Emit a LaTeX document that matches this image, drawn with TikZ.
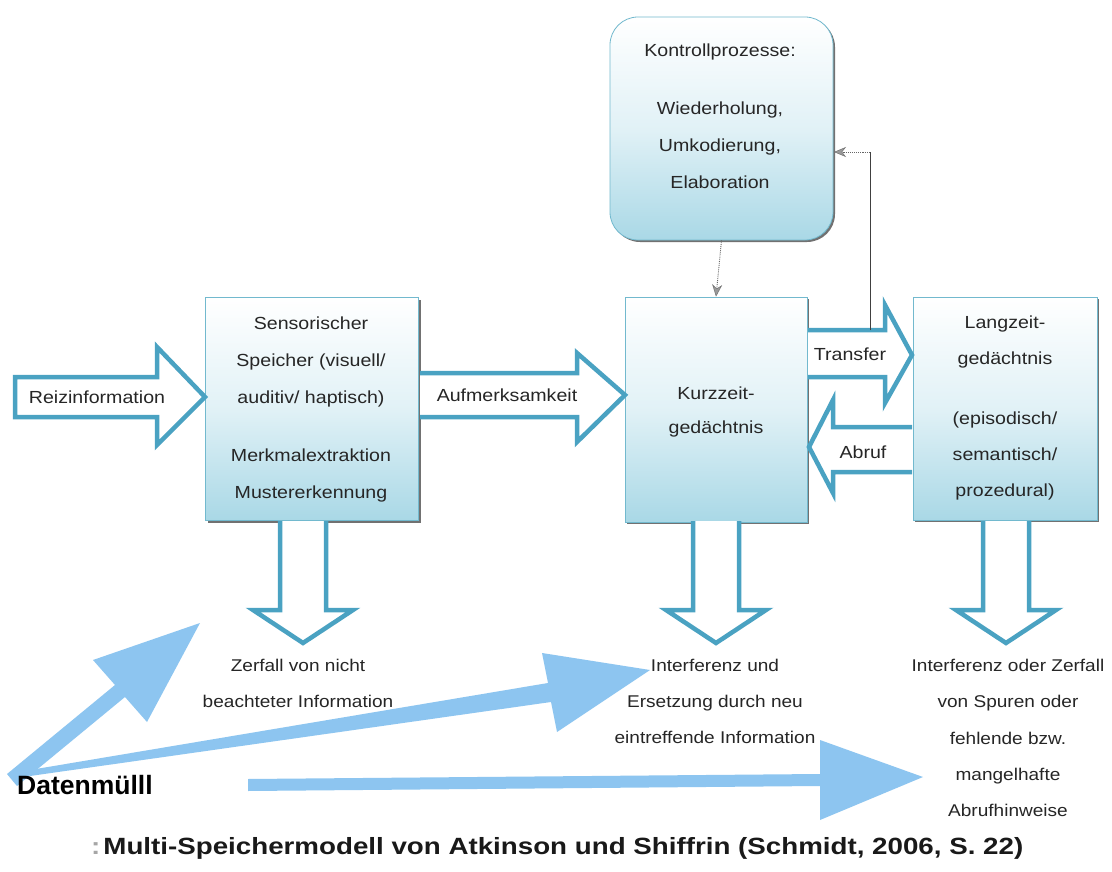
\documentclass[tikz,border=0pt]{standalone}
\usepackage{fontspec}
\setmainfont{Liberation Sans}[FakeStretch=1.12]
\newfontfamily\capfont{Liberation Sans}[FakeStretch=1.18]
\newfontfamily\datfont{Liberation Sans}
\usetikzlibrary{shadows,arrows.meta,calc}
\definecolor{arrteal}{HTML}{4AA2C2}
\definecolor{boxbot}{HTML}{A9D8E6}
\definecolor{boxedge}{HTML}{72B9CE}
\definecolor{lblue}{HTML}{8DC5F0}
\definecolor{txtcol}{HTML}{262626}
\tikzset{
 box/.style={draw=boxedge, line width=0.8pt, top color=white, bottom color=boxbot, middle color=boxbot!35,
   drop shadow={shadow xshift=2pt, shadow yshift=-2pt, opacity=0.85, fill=black!65}, inner sep=0pt},
 txt/.style={font=\fontsize{17.5}{37}\selectfont, align=center, inner sep=0pt, text=txtcol, anchor=north},
 lbl/.style={font=\fontsize{17.5}{37}\selectfont, inner sep=0pt, text=txtcol},
 barrow/.style={draw=arrteal, line width=4.5pt, fill=white, line join=miter, miter limit=10},
 barrowfill/.style={fill=white, draw=none},
 lbarrow/.style={fill=lblue, draw=none},
 dotarrow/.style={draw=black!60, densely dotted, line width=0.9pt, -{Stealth[length=12pt,width=10pt,fill=black!40,color=black!55,line width=0.5pt]}},
 fbline/.style={draw=black!75, line width=0.7pt},
}
\begin{document}
\begin{tikzpicture}[x=1pt,y=-1pt]
\useasboundingbox[fill=white] (0,0) rectangle (1112,872);

% boxes
\node[box, rounded corners=28pt, minimum width=223pt, minimum height=223pt] (kontroll) at (721.5,128.5) {};
\node[box, minimum width=213pt, minimum height=223pt] (sens) at (312,409) {};
\node[box, minimum width=182pt, minimum height=225pt] (kurz) at (716,409.5) {};
\node[box, minimum width=184pt, minimum height=223pt] (lang) at (1005,408.5) {};

% box texts
\node[txt] (kontrolltxt) at (720,44) {Kontrollprozesse:\\[21pt]Wiederholung,\\Umkodierung,\\Elaboration};
\node[txt] (senstxt) at (311,317) {Sensorischer\\Speicher (visuell/\\auditiv/ haptisch)\\[21pt]Merkmalextraktion\\Mustererkennung};
\node[txt, font=\fontsize{17.5}{34}\selectfont] (kurztxt) at (716,387) {Kurzzeit-\\gedächtnis};
\node[txt, font=\fontsize{17.5}{36}\selectfont] (langtxt) at (1005,316) {Langzeit-\\gedächtnis\\[24pt](episodisch/\\semantisch/\\prozedural)};

% horizontal block arrows
\draw[barrow] (15,377) -- (157,377) -- (157,347) -- (205,397) -- (157,445) -- (157,417) -- (15,417) -- cycle;
\node[lbl] (reiz) at (97,397) {Reizinformation};

\fill[barrowfill] (420,373) -- (577,373) -- (577,353) -- (625,395) -- (577,442) -- (577,417) -- (420,417) -- cycle;
\draw[barrow] (420,373) -- (577,373) -- (577,353) -- (625,395) -- (577,442) -- (577,417) -- (420,417);
\node[lbl] (aufm) at (507,395) {Aufmerksamkeit};

\fill[barrowfill] (808,330) -- (885,330) -- (885,305) -- (912,355) -- (885,403) -- (885,377) -- (808,377) -- cycle;
\draw[barrow] (808,330) -- (885,330) -- (885,305) -- (912,355) -- (885,403) -- (885,377) -- (808,377);
\node[lbl] (transfer) at (850,354) {Transfer};

\fill[barrowfill] (912,427) -- (833,427) -- (833,400) -- (809,447) -- (833,493) -- (833,472) -- (912,472) -- cycle;
\draw[barrow] (912,427) -- (833,427) -- (833,400) -- (809,447) -- (833,493) -- (833,472) -- (912,472);
\node[lbl] (abruf) at (863,452) {Abruf};

% downward block arrows
\foreach \cx in {303, 716, 1006}{
  \fill[barrowfill] (\cx-23,521) -- (\cx-23,610) -- (\cx-50,610) -- (\cx,643) -- (\cx+50,610) -- (\cx+23,610) -- (\cx+23,521) -- cycle;
  \draw[barrow] (\cx-23,521) -- (\cx-23,610) -- (\cx-50,610) -- (\cx,643) -- (\cx+50,610) -- (\cx+23,610) -- (\cx+23,521);
}

% control connectors
\draw[dotarrow] (kontroll.south) -- (kurz.north);
\coordinate (trtop) at (870,330);
\coordinate (kin) at (834,152);
\draw[fbline] (trtop) -- (870,152);
\draw[dotarrow] (870,152) -- (kin);

% light blue arrows
\fill[lbarrow] (7,774) -- (115,685) -- (93,660) -- (200,623) -- (147,722) -- (125,697) -- (17,786) -- cycle;
\fill[lbarrow] (30,770) -- (548,683) -- (542,653) -- (650,670) -- (557,732) -- (551,702) -- (30,776) -- cycle;
\fill[lbarrow] (248,779) -- (820,774) -- (820,740) -- (923,777) -- (820,820) -- (820,786) -- (248,791) -- cycle;

% bottom texts
\node[txt, font=\fontsize{17}{35.5}\selectfont] (zerfall) at (298,659) {Zerfall von nicht\\beachteter Information};
\node[txt, font=\fontsize{17}{36}\selectfont] (interf) at (715,659) {Interferenz und\\Ersetzung durch neu\\eintreffende Information};
\node[txt, font=\fontsize{17}{36.3}\selectfont] (interf2) at (1008,659) {Interferenz oder Zerfall\\von Spuren oder\\fehlende bzw.\\mangelhafte\\Abrufhinweise};

\node[anchor=west, inner sep=0pt, font=\datfont\fontsize{26.5}{30}\selectfont\bfseries, text=black] (daten) at (17,785) {Datenmülll};

\node[anchor=west, inner sep=0pt, font=\capfont\fontsize{23.5}{28}\selectfont\bfseries, text=black!90] (caption) at (91,848) {\textcolor{black!35}{:}\hspace{3pt}Multi-Speichermodell von Atkinson und Shiffrin (Schmidt, 2006, S. 22)};
\end{tikzpicture}
\end{document}
